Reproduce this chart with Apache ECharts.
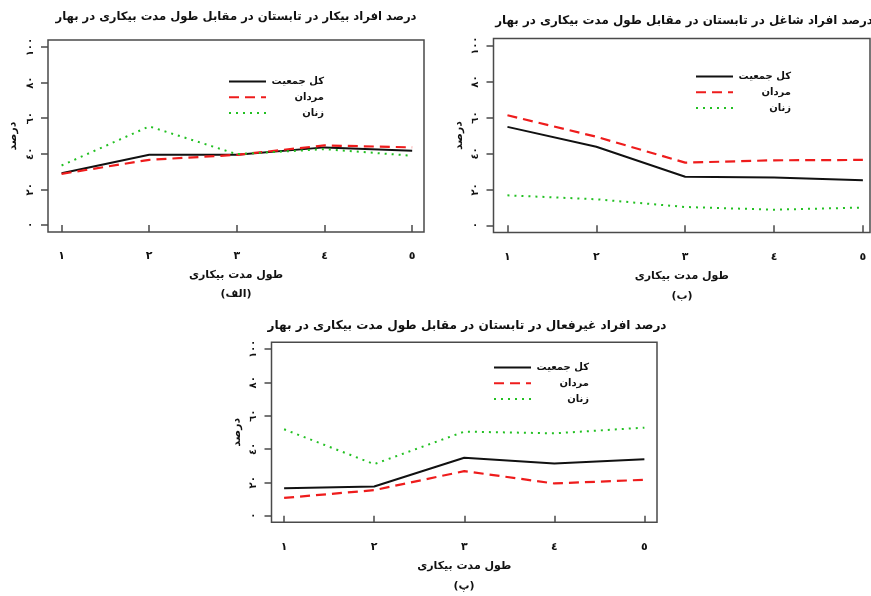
<!DOCTYPE html>
<html><head><meta charset="utf-8">
<script src="https://cdn.jsdelivr.net/npm/echarts@6/dist/echarts.min.js"></script>
<style>html,body{margin:0;padding:0;background:#fff}#c{width:871px;height:596px}</style>
</head><body><div id="c"></div>
<script>
// ---- data ----
const xValues = [1, 2, 3, 4, 5];
const xTickLabels = ['١', '٢', '٣', '٤', '٥'];
const yTicks = [0, 20, 40, 60, 80, 100];
const yTickLabels = ['٠', '٢٠', '٤٠', '٦٠', '٨٠', '١٠٠'];
const seriesNames = ['کل جمعیت', 'مردان', 'زنان'];
const panelTitles = [
  'درصد افراد بیکار در تابستان در مقابل طول مدت بیکاری در بهار',
  'درصد افراد شاغل در تابستان در مقابل طول مدت بیکاری در بهار',
  'درصد افراد غیرفعال در تابستان در مقابل طول مدت بیکاری در بهار'
];
const panelLetters = ['(الف)', '(ب)', '(پ)'];
const xAxisTitle = 'طول مدت بیکاری';
const yAxisTitle = 'درصد';

// panel A: unemployed
const unempTotal = [29.1, 39.4, 39.4, 43.6, 41.7];
const unempMen   = [28.7, 36.6, 39.4, 44.7, 43.6];
const unempWomen = [33.4, 55.4, 39.8, 42.6, 38.9];
// panel B: employed
const empTotal = [54.8, 43.7, 27.0, 26.6, 25.1];
const empMen   = [61.3, 49.3, 34.9, 36.2, 36.4];
const empWomen = [16.7, 14.5, 10.2, 8.7, 9.9];
// panel C: inactive
const inactTotal = [16.4, 17.5, 34.7, 31.3, 33.9];
const inactMen   = [10.6, 15.3, 26.7, 19.3, 21.5];
const inactWomen = [51.8, 30.9, 50.4, 49.4, 52.8];

const panelData = [
  [unempTotal, unempMen, unempWomen],
  [empTotal, empMen, empWomen],
  [inactTotal, inactMen, inactWomen]
];

// ---- layout / style ----
const FONT = 'DejaVu Sans';
const grids = [
  {left: 48, top: 40, width: 376, height: 192},
  {left: 493.5, top: 38.5, width: 376.5, height: 194},
  {left: 271.5, top: 342.3, width: 385.5, height: 180}
];
const xRanges = [[0.845, 5.135], [0.843, 5.08], [0.86, 5.14]];
const legendPos = [{left: 228, top: 76}, {left: 695, top: 71}, {left: 493, top: 362}];
const titlePos = [{x: 236, y: 11}, {x: 684, y: 15}, {x: 467, y: 320}];
const titleSizes = [11.6, 11.9, 12.1];
const letterPos = [{x: 236, y: 289}, {x: 682, y: 291}, {x: 464, y: 581}];
const lineStyles = [
  {color: '#111111', width: 2, type: 'solid'},
  {color: '#ee1c1c', width: 2.2, type: [10, 6]},
  {color: '#22c022', width: 2, type: [2, 5]}
];

const option = {
  backgroundColor: '#ffffff',
  animation: false,
  title: [],
  legend: [],
  grid: [],
  xAxis: [],
  yAxis: [],
  series: []
};

for (let p = 0; p < 3; p++) {
  const g = grids[p];
  option.grid.push(Object.assign({show: true, borderColor: '#4a4a4a', borderWidth: 1.5, backgroundColor: 'transparent'}, g));
  option.title.push({
    text: panelTitles[p], left: titlePos[p].x, top: titlePos[p].y, textAlign: 'center', padding: 0,
    textStyle: {fontFamily: FONT, fontSize: titleSizes[p], fontWeight: 'bold', color: '#111'}
  });
  option.title.push({
    text: panelLetters[p], left: letterPos[p].x, top: letterPos[p].y, textAlign: 'center', padding: 0,
    textStyle: {fontFamily: FONT, fontSize: 11, fontWeight: 'bold', color: '#111'}
  });
  option.xAxis.push({
    type: 'value', gridIndex: p, min: xRanges[p][0], max: xRanges[p][1],
    axisLine: {show: false},
    splitLine: {show: false},
    axisTick: {show: true, inside: false, length: 7, customValues: xValues, lineStyle: {color: '#4a4a4a', width: 1.5}},
    axisLabel: {customValues: xValues, margin: 19, formatter: v => xTickLabels[xValues.indexOf(v)],
      fontFamily: FONT, fontSize: 11, fontWeight: 'bold', color: '#111'},
    name: xAxisTitle, nameLocation: 'middle', nameGap: 38,
    nameTextStyle: {fontFamily: FONT, fontSize: 11, fontWeight: 'bold', color: '#111'}
  });
  option.yAxis.push({
    type: 'value', gridIndex: p, min: -4, max: 104,
    axisLine: {show: false},
    splitLine: {show: false},
    axisTick: {show: true, inside: false, length: 7, customValues: yTicks, lineStyle: {color: '#4a4a4a', width: 1.5}},
    axisLabel: {customValues: yTicks, rotate: 90, margin: 13, formatter: v => yTickLabels[yTicks.indexOf(v)],
      fontFamily: FONT, fontSize: 10, fontWeight: 'bold', color: '#111'},
    name: yAxisTitle, nameLocation: 'middle', nameGap: 29, nameRotate: 90,
    nameTextStyle: {fontFamily: FONT, fontSize: 11, fontWeight: 'bold', color: '#111'}
  });
  option.legend.push({
    orient: 'vertical', left: legendPos[p].left, top: legendPos[p].top,
    itemWidth: 37, itemHeight: 14, itemGap: 4.5, padding: 0,
    selectedMode: false,
    itemStyle: {color: 'transparent', borderColor: 'transparent', borderWidth: 0, opacity: 0},
    data: seriesNames,
    formatter: name => '{t|' + name + '}',
    textStyle: {fontFamily: FONT, fontSize: 10, fontWeight: 'bold', color: '#111',
      rich: {t: {width: 53, align: 'right', fontFamily: FONT, fontSize: 10, fontWeight: 'bold', color: '#111'}}}
  });
  for (let s = 0; s < 3; s++) {
    option.series.push({
      type: 'line', name: seriesNames[s], xAxisIndex: p, yAxisIndex: p,
      symbol: 'none', showSymbol: false,
      itemStyle: {color: lineStyles[s].color},
      lineStyle: lineStyles[s],
      data: xValues.map((x, i) => [x, panelData[p][s][i]])
    });
  }
}

const chart = echarts.init(document.getElementById('c'), null, {renderer: 'canvas'});
chart.setOption(option);
</script>
</body></html>
